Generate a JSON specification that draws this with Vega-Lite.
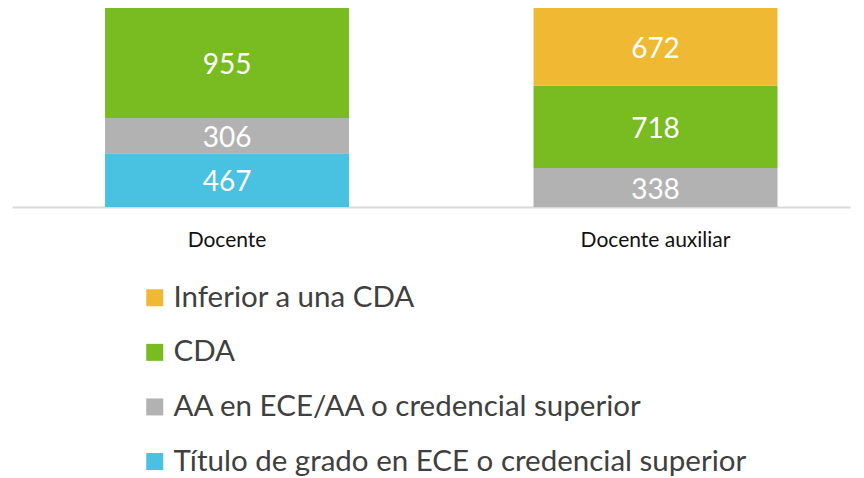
{
  "$schema": "https://vega.github.io/schema/vega-lite/v6.json",
  "width": 838,
  "height": 199,
  "autosize": {"type": "none"},
  "padding": {"left": 12, "top": 8, "right": 14, "bottom": 271},
  "background": "#ffffff",
  "config": {"view": {"stroke": null}, "font": "Lato"},
  "data": {
    "values": [
      {"puesto": "Docente", "credencial": "Título de grado en ECE o credencial superior", "orden": 1, "valor": 467},
      {"puesto": "Docente", "credencial": "AA en ECE/AA o credencial superior", "orden": 2, "valor": 306},
      {"puesto": "Docente", "credencial": "CDA", "orden": 3, "valor": 955},
      {"puesto": "Docente auxiliar", "credencial": "AA en ECE/AA o credencial superior", "orden": 2, "valor": 338},
      {"puesto": "Docente auxiliar", "credencial": "CDA", "orden": 3, "valor": 718},
      {"puesto": "Docente auxiliar", "credencial": "Inferior a una CDA", "orden": 4, "valor": 672}
    ]
  },
  "transform": [
    {"stack": "valor", "groupby": ["puesto"], "sort": [{"field": "orden", "order": "ascending"}], "as": ["v0", "v1"]},
    {"calculate": "(datum.v0 + datum.v1) / 2", "as": "vmid"}
  ],
  "encoding": {
    "x": {
      "field": "puesto",
      "type": "nominal",
      "sort": ["Docente", "Docente auxiliar"],
      "scale": {"paddingInner": 0.4306, "paddingOuter": 0.1932, "align": 0.562},
      "axis": {
        "title": null,
        "labelAngle": 0,
        "ticks": false,
        "domainColor": "#D9D9D9",
        "domainWidth": 2,
        "labelFontSize": 21,
        "labelColor": "#111111",
        "labelPadding": 22,
        "labelFont": "Lato"
      }
    }
  },
  "layer": [
    {
      "mark": {"type": "bar"},
      "encoding": {
        "y": {"field": "v0", "type": "quantitative", "scale": {"domain": [0, 1728], "nice": false}, "axis": null},
        "y2": {"field": "v1"},
        "color": {
          "field": "credencial",
          "type": "nominal",
          "scale": {
            "domain": ["Inferior a una CDA", "CDA", "AA en ECE/AA o credencial superior", "Título de grado en ECE o credencial superior"],
            "range": ["#F0B933", "#78BC21", "#B2B2B2", "#49C1E0"]
          },
          "legend": {
            "title": null,
            "orient": "none",
            "legendX": 128,
            "legendY": 275,
            "direction": "vertical",
            "symbolType": "square",
            "symbolSize": 289,
            "symbolStrokeWidth": 0,
            "labelFontSize": 29.5,
            "labelFont": "Lato",
            "labelColor": "#404040",
            "labelLimit": 800,
            "labelOffset": 4,
            "rowPadding": 23.6
          }
        }
      }
    },
    {
      "mark": {"type": "text", "color": "#ffffff", "fontSize": 28, "font": "Lato", "baseline": "middle", "dy": 3},
      "encoding": {
        "y": {"field": "vmid", "type": "quantitative", "scale": {"domain": [0, 1728], "nice": false}},
        "text": {"field": "valor", "type": "quantitative"}
      }
    }
  ]
}
